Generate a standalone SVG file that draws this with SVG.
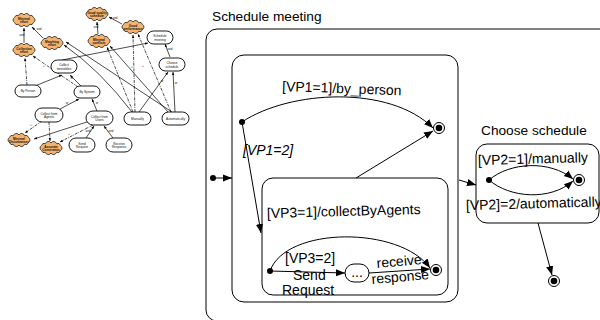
<svg xmlns="http://www.w3.org/2000/svg" xmlns:xlink="http://www.w3.org/1999/xlink" width="600" height="320" viewBox="0 0 600 320">
  <style>
    .lbl { font-family: "Liberation Sans", Arial, sans-serif; font-size: 14px; fill: #000; }
    .ttl { font-family: "Liberation Sans", Arial, sans-serif; font-size: 13.7px; fill: #000; }
    .st { fill: none; stroke: #000; stroke-width: 1; }
    .box { fill: #fff; stroke: #000; stroke-width: 1; }
    .fl { fill: #000; }
    .tn { font-family: "Liberation Sans", Arial, sans-serif; font-size: 3.2px; fill: #111; text-anchor: middle; }
    .tnb { font-family: "Liberation Sans", Arial, sans-serif; font-size: 3.2px; fill: #111; text-anchor: middle; font-weight: bold; }
    .tg { font-family: "Liberation Sans", Arial, sans-serif; font-size: 3px; fill: #111; text-anchor: middle; }
    .fe { fill: #fff; stroke: #000; stroke-width: 0.9; }
    .fc { fill: none; stroke: #000; stroke-width: 0.7; }
    .fd { fill: none; stroke: #000; stroke-width: 0.7; stroke-dasharray: 3 1 0.8 1; }
  </style>
  <defs>
    <marker id="arr" viewBox="0 0 10 10" refX="10" refY="5" markerWidth="9" markerHeight="9" markerUnits="userSpaceOnUse" orient="auto">
      <path d="M0,1 L10,5 L0,9 Z" fill="#000"/>
    </marker>
    <marker id="sarr" viewBox="0 0 10 10" refX="10" refY="5" markerWidth="3" markerHeight="3" markerUnits="userSpaceOnUse" orient="auto">
      <path d="M0,1 L10,5 L0,9 Z" fill="#000"/>
    </marker>
    <path id="cloud" fill="#f5b46e" stroke="#222" stroke-width="0.8" d="M11,0 A3,3 0 0 1 9.53,2.5 A3,3 0 0 1 5.5,4.33 A3,3 0 0 1 0,5 A3,3 0 0 1 -5.5,4.33 A3,3 0 0 1 -9.53,2.5 A3,3 0 0 1 -11,0 A3,3 0 0 1 -9.53,-2.5 A3,3 0 0 1 -5.5,-4.33 A3,3 0 0 1 0,-5 A3,3 0 0 1 5.5,-4.33 A3,3 0 0 1 9.53,-2.5 A3,3 0 0 1 11,0 Z"/>
  </defs>

  <rect width="600" height="320" fill="#fff"/>

  <!-- ===== Goal model (small) ===== -->
  <g id="goal-connectors">
    <path class="fc" marker-end="url(#sarr)" d="M24,43 L24,28"/>
    <path class="fc" marker-end="url(#sarr)" d="M43,38 L32,27"/>
    <path class="fc" marker-end="url(#sarr)" d="M98,34 L97,22"/>
    <path class="fc" marker-end="url(#sarr)" d="M122,24 L109,17"/>
    <path class="fc" marker-end="url(#sarr)" d="M170,57 L165,44"/>
    <path class="fc" marker-end="url(#sarr)" d="M62,60 L148,43"/>
    <path class="fc" marker-end="url(#sarr)" d="M35,86 L62,75"/>
    <path class="fc" marker-end="url(#sarr)" d="M82,87 L70,75"/>
    <path class="fc" marker-end="url(#sarr)" d="M60,109 L79,99"/>
    <path class="fc" marker-end="url(#sarr)" d="M97,111 L92,99"/>
    <path class="fc" marker-end="url(#sarr)" d="M86,138 L94,126"/>
    <path class="fc" marker-end="url(#sarr)" d="M113,138 L104,126"/>
    <path class="fc" marker-end="url(#sarr)" d="M139,112 L168,72"/>
    <path class="fc" marker-end="url(#sarr)" d="M175,112 L173,72"/>
    <path class="fc" marker-end="url(#sarr)" d="M132,112 Q100,70 64,45"/>
    <path class="fc" marker-end="url(#sarr)" d="M172,112 L66,42"/>
    <path class="fc" marker-end="url(#sarr)" d="M168,112 L110,46"/>
    <path class="fc" marker-end="url(#sarr)" d="M90,121 L34,139"/>
    <path class="fd" marker-end="url(#sarr)" d="M27,85 L25,58"/>
    <path class="fd" marker-end="url(#sarr)" d="M78,87 L33,56"/>
    <path class="fd" marker-end="url(#sarr)" d="M42,121 L25,133"/>
    <path class="fd" marker-end="url(#sarr)" d="M49,122 L50,141"/>
    <path class="fd" marker-end="url(#sarr)" d="M93,125 L60,142"/>
    <path class="fd" marker-end="url(#sarr)" d="M133,112 L107,47"/>
    <path class="fd" marker-end="url(#sarr)" d="M135,112 L133,35"/>
    <path class="fd" marker-end="url(#sarr)" d="M171,112 L138,34"/>
    <text class="tg" x="26" y="73">-</text>
    <text class="tg" x="44" y="67">+</text>
    <text class="tg" x="31" y="126">+</text>
    <text class="tg" x="48" y="134">-</text>
    <text class="tg" x="69" y="135">+</text>
    <text class="tg" x="118" y="71">-</text>
    <text class="tg" x="132" y="68">+</text>
    <text class="tg" x="143" y="67">+</text>
    <text class="tg" x="22" y="36">and</text>
    <text class="tg" x="39" y="30">and</text>
    <text class="tg" x="96" y="28">and</text>
    <text class="tg" x="115" y="19">and</text>
    <text class="tg" x="170" y="50">and</text>
    <text class="tg" x="72" y="79">or</text>
    <text class="tg" x="67" y="104">or</text>
    <text class="tg" x="97" y="104">or</text>
    <text class="tg" x="88" y="132">and</text>
    <text class="tg" x="111" y="132">and</text>
    <text class="tg" x="162" y="82">or</text>
    <text class="tg" x="176" y="84">or</text>
  </g>

  <g id="g-minimal-effort"><use xlink:href="#cloud" x="24" y="20"/><text class="tnb" x="24" y="19.5">Minimal</text><text class="tnb" x="24" y="23">effort</text></g>
  <g id="g-collection-effort"><use xlink:href="#cloud" x="24" y="50"/><text class="tnb" x="24" y="49.5">Collection</text><text class="tnb" x="24" y="53">effort</text></g>
  <g id="g-matching-effort"><use xlink:href="#cloud" x="52" y="43"/><text class="tnb" x="52" y="42.5">Matching</text><text class="tnb" x="52" y="46">effort</text></g>
  <g id="g-good-quality"><use xlink:href="#cloud" x="97" y="14"/><text class="tnb" x="97" y="13.5">Good quality</text><text class="tnb" x="97" y="17">schedule</text></g>
  <g id="g-minimal-conflicts"><use xlink:href="#cloud" x="99" y="41"/><text class="tnb" x="99" y="40.5">Minimal</text><text class="tnb" x="99" y="44">conflicts</text></g>
  <g id="g-good-performance"><use xlink:href="#cloud" x="133" y="27"/><text class="tnb" x="133" y="26.5">Good</text><text class="tnb" x="133" y="30">performance</text></g>
  <g id="g-minimal-disturbances"><use xlink:href="#cloud" x="19" y="140"/><text class="tnb" x="19" y="139.5">Minimal</text><text class="tnb" x="19" y="143">Disturbances</text></g>
  <g id="g-accurate-constraints"><use xlink:href="#cloud" x="51" y="148"/><text class="tnb" x="51" y="147.5">Accurate</text><text class="tnb" x="51" y="151">Constraints</text></g>

  <g id="t-schedule-meeting"><rect class="fe" x="147" y="31" width="26" height="13" rx="6.5"/><text class="tn" x="160" y="37">Schedule</text><text class="tn" x="160" y="40.5">meeting</text></g>
  <g id="t-choose-schedule"><rect class="fe" x="159" y="58" width="26" height="13" rx="6.5"/><text class="tn" x="172" y="64">Choose</text><text class="tn" x="172" y="67.5">schedule</text></g>
  <g id="t-collect-timetables"><rect class="fe" x="51" y="60" width="26" height="13" rx="6.5"/><text class="tn" x="64" y="66">Collect</text><text class="tn" x="64" y="69.5">timetables</text></g>
  <g id="t-by-person"><rect class="fe" x="15" y="85" width="26" height="12" rx="6"/><text class="tn" x="28" y="92.2">By Person</text></g>
  <g id="t-by-system"><rect class="fe" x="74" y="86" width="26" height="12" rx="6"/><text class="tn" x="87" y="93.2">By System</text></g>
  <g id="t-collect-agents"><rect class="fe" x="35" y="108" width="28" height="14" rx="7"/><text class="tn" x="49" y="114.5">Collect from</text><text class="tn" x="49" y="118">Agents</text></g>
  <g id="t-collect-users"><rect class="fe" x="86" y="111" width="27" height="14" rx="7"/><text class="tn" x="99.5" y="117.5">Collect from</text><text class="tn" x="99.5" y="121">Users</text></g>
  <g id="t-manually"><rect class="fe" x="124" y="112" width="27" height="13" rx="6.5"/><text class="tn" x="137.5" y="119.6">Manually</text></g>
  <g id="t-automatically"><rect class="fe" x="162" y="112" width="27" height="13" rx="6.5"/><text class="tn" x="175.5" y="119.6">Automatically</text></g>
  <g id="t-send-request"><rect class="fe" x="69" y="138" width="26" height="14" rx="7"/><text class="tn" x="82" y="144.5">Send</text><text class="tn" x="82" y="148">Request</text></g>
  <g id="t-receive-response"><rect class="fe" x="106" y="138" width="26" height="14" rx="7"/><text class="tn" x="119" y="144.5">Receive</text><text class="tn" x="119" y="148">Response</text></g>

  <!-- ===== Statechart ===== -->
  <g id="schedule-meeting">
    <text class="ttl" x="212" y="21">Schedule meeting</text>
    <rect class="box" x="206" y="29" width="410" height="292" rx="11"/>
  </g>
  <g id="collect-state">
    <rect class="box" x="232" y="55" width="226" height="247" rx="12"/>
  </g>
  <g id="system-state">
    <rect class="box" x="262" y="178" width="186" height="117" rx="11"/>
  </g>
  <g id="choose-schedule">
    <text class="ttl" x="481" y="135">Choose schedule</text>
    <rect class="box" x="476" y="144" width="123" height="79" rx="11"/>
  </g>
  <g id="waiting-state">
    <rect class="box" x="345" y="264" width="24" height="18" rx="9"/>
    <text class="lbl" x="357" y="277" text-anchor="middle" font-size="11">...</text>
  </g>

  <!-- pseudostates -->
  <g id="init-outer"><circle class="fl" cx="213" cy="178" r="3"/></g>
  <g id="init-collect"><circle class="fl" cx="242" cy="122" r="3"/></g>
  <g id="init-system"><circle class="fl" cx="270" cy="271" r="3"/></g>
  <g id="init-choose"><circle class="fl" cx="489" cy="180" r="3"/></g>
  <g id="final-collect"><circle class="box" cx="439" cy="128" r="5.5"/><circle class="fl" cx="439" cy="128" r="3.3"/></g>
  <g id="final-system"><circle class="box" cx="436" cy="270" r="5.5"/><circle class="fl" cx="436" cy="270" r="3.3"/></g>
  <g id="final-choose"><circle class="box" cx="579" cy="180" r="5.5"/><circle class="fl" cx="579" cy="180" r="3.3"/></g>
  <g id="final-outer"><circle class="box" cx="554" cy="281" r="5.5"/><circle class="fl" cx="554" cy="281" r="3.3"/></g>

  <g id="transitions">
    <path class="st" marker-end="url(#arr)" d="M215,178 L232,178"/>
    <path class="st" marker-end="url(#arr)" d="M242,122 C290,90 390,85 433,128"/>
    <path class="st" marker-end="url(#arr)" d="M242,122 L261,233"/>
    <path class="st" marker-end="url(#arr)" d="M356,178 L433,131"/>
    <path class="st" marker-end="url(#arr)" d="M270,271 C286,226 400,226 430,268"/>
    <path class="st" marker-end="url(#arr)" d="M270,271 L345,273"/>
    <path class="st" marker-end="url(#arr)" d="M369,273 L430,269"/>
    <path class="st" marker-end="url(#arr)" d="M459,180 L476,185"/>
    <path class="st" marker-end="url(#arr)" d="M489,180 C510,162 550,160 573,179"/>
    <path class="st" marker-end="url(#arr)" d="M489,180 C510,198 550,201 573,181"/>
    <path class="st" marker-end="url(#arr)" d="M538,223 L552,275"/>
  </g>

  <g id="transition-labels">
    <text class="lbl" x="282" y="91" transform="rotate(2 282 91)">[VP1=1]/by_person</text>
    <text class="lbl" x="243" y="155" font-style="italic">[VP1=2]</text>
    <text class="lbl" x="267" y="218" transform="rotate(-1.5 267 218)">[VP3=1]/collectByAgents</text>
    <text class="lbl" x="285" y="263">[VP3=2]</text>
    <text class="lbl" x="293" y="280">Send</text>
    <text class="lbl" x="282" y="295">Request</text>
    <text class="lbl" x="377" y="268" font-size="13" transform="rotate(-5 377 268)">receive</text>
    <text class="lbl" x="372" y="284" font-size="13.5" transform="rotate(-5 372 284)">response</text>
    <text class="lbl" x="478" y="165" transform="rotate(-1.5 478 165)">[VP2=1]/manually</text>
    <text class="lbl" x="466" y="210" font-size="12.9" transform="rotate(-1.5 466 210)">[VP2]=2/automatically</text>
  </g>
</svg>
